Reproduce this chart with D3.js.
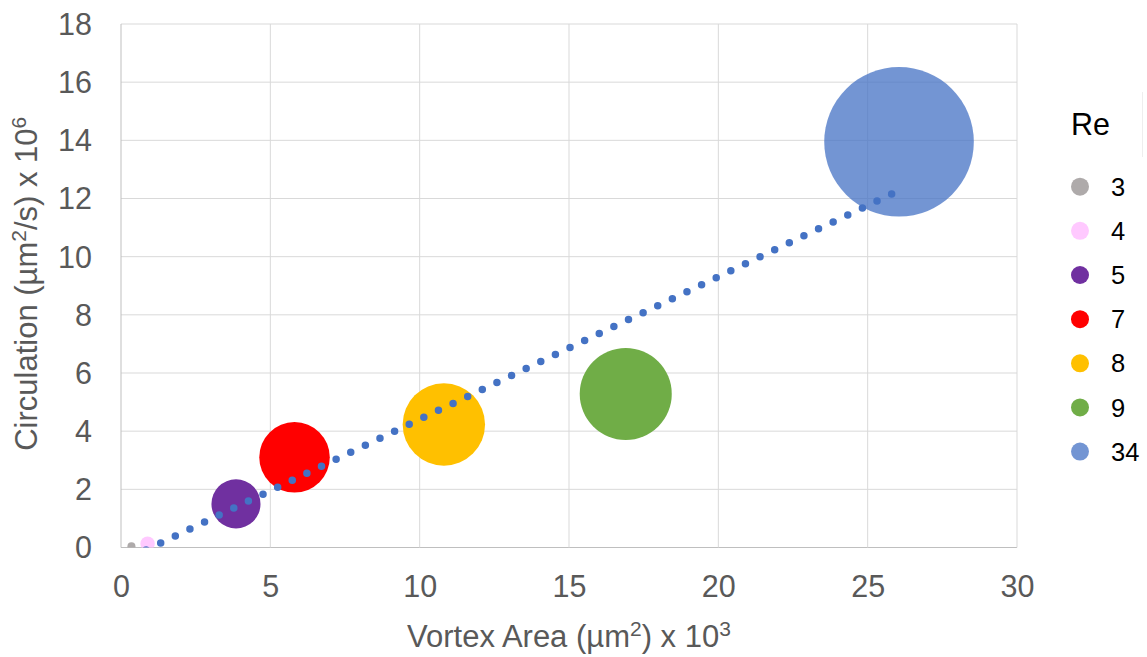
<!DOCTYPE html>
<html>
<head>
<meta charset="utf-8">
<script src="https://cdn.jsdelivr.net/npm/d3@7/dist/d3.min.js"></script>
<style>
  html, body { margin: 0; padding: 0; background: #fff; }
  svg { display: block; font-family: "Liberation Sans", Arial, sans-serif; }
</style>
</head>
<body>
<svg id="chart" width="1147" height="657"></svg>
<script>
// Vortex area (µm² ×10³) vs circulation (µm²/s ×10⁶), one bubble per Reynolds number
const reynolds   = ["3", "4", "5", "7", "8", "9", "34"];
const vortexArea = [0.35, 0.89, 3.85, 5.81, 10.81, 16.90, 26.05];
const circulation = [0.04, 0.13, 1.50, 3.10, 4.23, 5.28, 13.95];
const bubbleSize = [0.04, 0.13, 1.50, 3.10, 4.23, 5.28, 13.95];
const colors = ["#AEAAAA", "#FFC9FF", "#7030A0", "#FF0000", "#FFC000", "#70AD47", "#4472C4"];
const opacities = [1, 1, 1, 1, 1, 1, 0.75];
const xTicks = [0, 5, 10, 15, 20, 25, 30];
const yTicks = [0, 2, 4, 6, 8, 10, 12, 14, 16, 18];

const svg = d3.select("#chart");
const plot = { left: 121, right: 1017, top: 24, bottom: 547.5 };

const x = d3.scaleLinear().domain([0, 30]).range([plot.left, plot.right]);
const y = d3.scaleLinear().domain([0, 18]).range([plot.bottom, plot.top]);
const r = d3.scaleSqrt().domain([0, d3.max(bubbleSize)]).range([0, 74.8]);

const tickColor = "#595959";
const gridColor = "#D9D9D9";

// gridlines
svg.append("g").selectAll("line").data(yTicks).join("line")
  .attr("x1", plot.left).attr("x2", plot.right)
  .attr("y1", d => y(d)).attr("y2", d => y(d))
  .attr("stroke", d => d === 0 ? "#BFBFBF" : gridColor).attr("stroke-width", 1);
svg.append("g").selectAll("line").data(xTicks).join("line")
  .attr("x1", d => x(d)).attr("x2", d => x(d))
  .attr("y1", plot.top).attr("y2", plot.bottom)
  .attr("stroke", d => d === 0 ? "#BFBFBF" : gridColor).attr("stroke-width", 1);

// axes (labels only, lines drawn as gridlines)
const yAxis = svg.append("g")
  .attr("transform", `translate(${plot.left - 29},0)`)
  .call(d3.axisLeft(y).tickValues(yTicks).tickSize(0).tickPadding(0));
yAxis.select(".domain").remove();
yAxis.selectAll("text").attr("fill", tickColor).attr("font-size", 30.5)
  .attr("font-family", "'Liberation Sans', Arial, sans-serif").attr("dy", "0.34em").attr("x", 0);

const xAxis = svg.append("g")
  .attr("transform", `translate(0,${plot.bottom})`)
  .call(d3.axisBottom(x).tickValues(xTicks).tickSize(0).tickPadding(0));
xAxis.select(".domain").remove();
xAxis.selectAll("text").attr("fill", tickColor).attr("font-size", 30.5)
  .attr("font-family", "'Liberation Sans', Arial, sans-serif").attr("dy", null).attr("y", 49);

// bubbles clipped to the plot area
svg.append("clipPath").attr("id", "plotClip").append("rect")
  .attr("x", plot.left).attr("y", plot.top)
  .attr("width", plot.right - plot.left).attr("height", plot.bottom - plot.top);

const points = reynolds.map((re, i) => ({
  re, x: vortexArea[i], y: circulation[i], s: bubbleSize[i], color: colors[i], op: opacities[i]
}));

const g = svg.append("g").attr("clip-path", "url(#plotClip)");
g.selectAll("circle").data(points).join("circle")
  .attr("cx", d => x(d.x)).attr("cy", d => y(d.y)).attr("r", d => r(d.s))
  .attr("fill", d => d.color).attr("fill-opacity", d => d.op);

// linear trendline (least squares), round-dot style
const mx = d3.mean(vortexArea), my = d3.mean(circulation);
const sxy = d3.sum(vortexArea, (v, i) => (v - mx) * (circulation[i] - my));
const sxx = d3.sum(vortexArea, v => (v - mx) * (v - mx));
const slope = sxy / sxx, intercept = my - slope * mx;
const xs = d3.extent(vortexArea);
g.append("path")
  .attr("d", d3.line().x(d => x(d)).y(d => y(slope * d + intercept))(xs))
  .attr("fill", "none").attr("stroke", "#4472C4").attr("stroke-width", 7.5)
  .attr("stroke-linecap", "round").attr("stroke-dasharray", "0 16.2");

// axis titles
const xTitle = svg.append("text").attr("x", (plot.left + plot.right) / 2).attr("y", 647)
  .attr("text-anchor", "middle").attr("font-size", 31).attr("fill", tickColor);
xTitle.append("tspan").text("Vortex Area (µm");
xTitle.append("tspan").attr("font-size", 21).attr("dy", -11).text("2");
xTitle.append("tspan").attr("dy", 11).text(") x 10");
xTitle.append("tspan").attr("font-size", 21).attr("dy", -11).text("3");

const yTitle = svg.append("text")
  .attr("transform", `translate(37,${(plot.top + plot.bottom) / 2 - 2}) rotate(-90)`)
  .attr("text-anchor", "middle").attr("font-size", 31).attr("fill", tickColor);
yTitle.append("tspan").text("Circulation (µm");
yTitle.append("tspan").attr("font-size", 21).attr("dy", -11).text("2");
yTitle.append("tspan").attr("dy", 11).text("/s) x 10");
yTitle.append("tspan").attr("font-size", 21).attr("dy", -11).text("6");

// legend
const legend = svg.append("g");
legend.append("text").attr("x", 1071).attr("y", 135).attr("font-size", 30.5)
  .attr("fill", "#000").text("Re");
legend.append("line").attr("x1", 1142.5).attr("x2", 1142.5).attr("y1", 92).attr("y2", 157)
  .attr("stroke", "#EEEEEE").attr("stroke-width", 1);
const items = legend.selectAll("g.item").data(points).join("g").attr("class", "item")
  .attr("transform", (d, i) => `translate(1080,${186.7 + i * 44.15})`);
items.append("circle").attr("r", 9).attr("fill", d => d.color).attr("fill-opacity", d => d.op);
items.append("text").attr("x", 31).attr("dy", "0.36em").attr("font-size", 25.5)
  .attr("fill", "#000").text(d => d.re);
</script>
</body>
</html>
